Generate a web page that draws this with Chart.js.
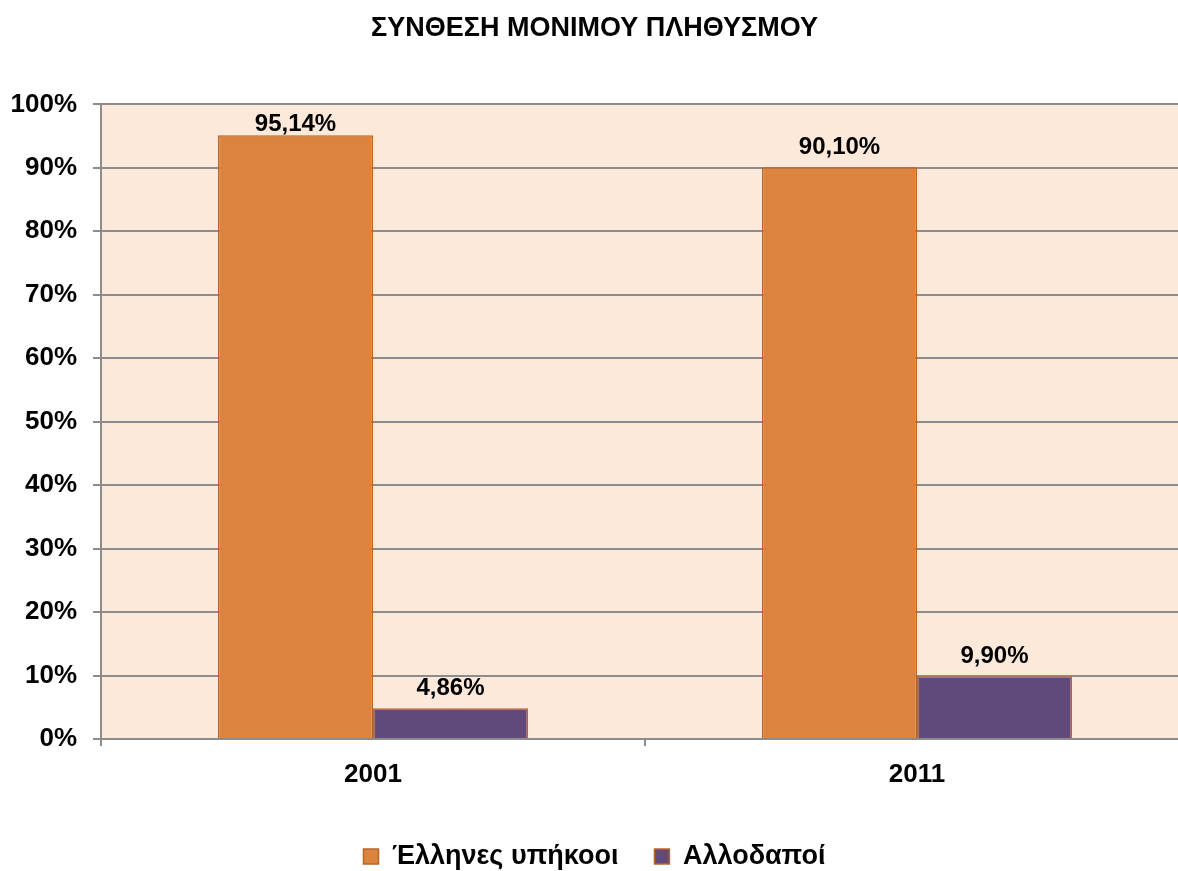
<!DOCTYPE html>
<html>
<head>
<meta charset="utf-8">
<script src="https://cdn.jsdelivr.net/npm/chart.js@4/dist/chart.umd.min.js"></script>
<style>
  html, body { margin: 0; padding: 0; background: #fff; overflow: hidden; }
  #wrap { width: 1190px; height: 871px; }
</style>
</head>
<body>
<div id="wrap"><canvas id="chart" width="1190" height="871"></canvas></div>
<script>
const years    = ['2001', '2011']
const greeks   = [95.14, 90.10]
const foreign  = [4.86, 9.90]
const seriesNames = ['Έλληνες υπήκοοι', 'Αλλοδαποί']

const FONT = "'Liberation Sans', Arial, sans-serif"
const fmt = v => v.toFixed(2).replace('.', ',') + '%'

// peach plot background
const plotBg = {
  id: 'plotBg',
  beforeDraw(chart) {
    const { ctx, chartArea: a } = chart
    ctx.save()
    ctx.fillStyle = '#FDE9D9'
    ctx.fillRect(a.left, a.top, a.right - a.left, a.bottom - a.top)
    ctx.restore()
  }
}

// value labels above bars
const barLabels = {
  id: 'barLabels',
  afterDatasetsDraw(chart) {
    const { ctx, chartArea } = chart
    ctx.save()
    ctx.font = `bold 24px ${FONT}`
    ctx.fillStyle = '#000'
    ctx.textAlign = 'center'
    ctx.textBaseline = 'middle'
    chart.data.datasets.forEach((ds, i) => {
      chart.getDatasetMeta(i).data.forEach((bar, j) => {
        const y = Math.max(bar.y - 20, chartArea.top + 20)
        ctx.fillText(fmt(ds.data[j]), bar.x, y)
      })
    })
    ctx.restore()
  }
}

// pull the legend a bit lower
const legendShift = {
  id: 'legendShift',
  beforeInit(chart) {
    if (!chart.legend) return
    const fit = chart.legend.fit
    chart.legend.fit = function () { fit.call(this); this.height -= 9 }
  }
}

new Chart(document.getElementById('chart'), {
  type: 'bar',
  data: {
    labels: years,
    datasets: [
      { label: seriesNames[0], data: greeks,  backgroundColor: '#DC833E', borderColor: '#B8652B', borderWidth: 1.5 },
      { label: seriesNames[1], data: foreign, backgroundColor: '#604A7B', borderColor: '#B8652B', borderWidth: 1.5 },
    ]
  },
  options: {
    responsive: false,
    animation: false,
    datasets: { bar: { categoryPercentage: 0.57, barPercentage: 1 } },
    layout: { padding: { left: 0, right: 1, top: 0, bottom: 0 } },
    plugins: {
      title: {
        display: true,
        text: 'ΣΥΝΘΕΣΗ ΜΟΝΙΜΟΥ ΠΛΗΘΥΣΜΟΥ',
        color: '#000',
        font: { family: FONT, size: 27, weight: 'bold' },
        padding: { top: 12, bottom: 60 }
      },
      legend: {
        position: 'bottom',
        labels: {
          color: '#000',
          font: { family: FONT, size: 27, weight: 'bold' },
          boxWidth: 15, boxHeight: 15, padding: 36
        }
      },
      tooltip: { enabled: false }
    },
    scales: {
      x: {
        grid: { drawOnChartArea: false, drawTicks: true, tickLength: 7, color: '#8c8c8c', lineWidth: 2 },
        border: { color: '#8c8c8c', width: 2 },
        ticks: { color: '#000', font: { family: FONT, size: 26, weight: 'bold' }, padding: 13 },
        afterFit: s => { s.height = 68 }
      },
      y: {
        min: 0, max: 100,
        grid: { color: '#8c8c8c', lineWidth: 2, tickLength: 8 },
        border: { color: '#8c8c8c', width: 2 },
        ticks: { stepSize: 10, color: '#000', font: { family: FONT, size: 26, weight: 'bold' }, padding: 16, callback: v => v + '%' },
        afterFit: s => { s.width = 101 }
      }
    }
  },
  plugins: [plotBg, barLabels, legendShift]
})
</script>
</body>
</html>
